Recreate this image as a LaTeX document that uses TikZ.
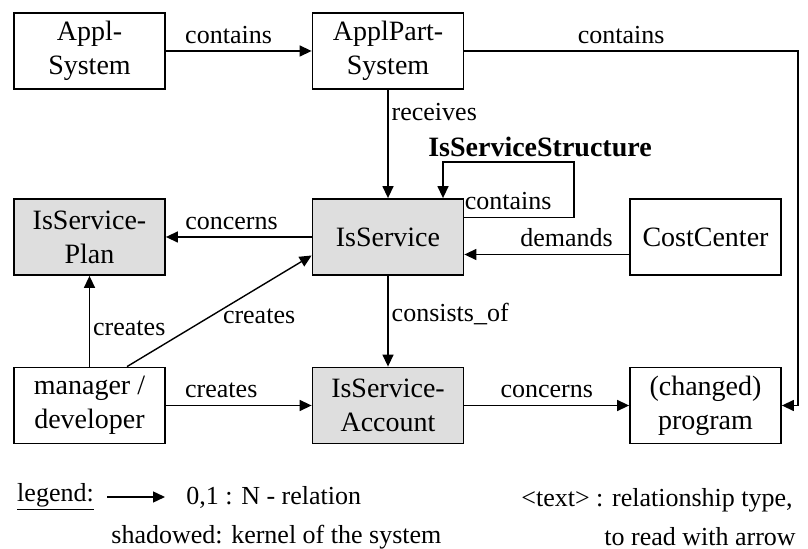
\documentclass[tikz,border=0pt]{standalone}
\usepackage{fontspec}
\setmainfont{Liberation Serif}
\usetikzlibrary{arrows.meta}

\begin{document}
\begin{tikzpicture}[x=0.5pt,y=-0.5pt,
    >={Triangle[length=6pt,width=5.5pt]},
    rel/.style={->,line width=0.7pt},
    box/.style={draw,line width=0.9pt,minimum width=75.5pt,minimum height=38pt,
        align=center,font=\fontsize{14}{17}\selectfont},
    kernel/.style={box,fill=black!13},
    lbl/.style={font=\fontsize{13}{15}\selectfont,inner sep=1.5pt},
    up/.style={lbl,above=2pt}]

    \useasboundingbox (0,0) rectangle (808,549);

    % boxes
    \node[box] (appl) at (89.5,51) {Appl-\\System};
    \node[box] (applpart) at (388,51) {ApplPart-\\System};
    \node[kernel] (plan) at (89.5,237) {IsService-\\Plan};
    \node[kernel] (isservice) at (388,237) {IsService};
    \node[box] (costcenter) at (705.5,237) {CostCenter};
    \node[box] (manager) at (89.5,405.5) {manager /\\developer};
    \node[kernel] (account) at (388,405.5) {IsService-\\Account};
    \node[box] (program) at (705.5,405.5) {(changed)\\program};

    \node[font=\fontsize{14}{17}\selectfont\bfseries] (structure) at (540,147) {IsServiceStructure};
    \coordinate (rightturn) at (798,51);
    \coordinate (loop) at (574,162);

    % relations
    \draw[rel] (appl) -- node[up,pos=0.43] {contains} (applpart);
    \draw[rel] (applpart) -- node[up,pos=0.47] {contains} (rightturn) |- (program);
    \draw[rel] (applpart) -- node[lbl,right,pos=0.2] {receives} (isservice);
    \draw[rel] ([yshift=9.75pt]isservice.east) -| node[up,pos=0.2] {contains} (loop)
        -| ([xshift=27.5pt]isservice.north);
    \draw[rel] (isservice) -- node[up,pos=0.55] {concerns} (plan);
    \draw[rel] ([yshift=-8.75pt]costcenter.west) -- node[up,pos=0.38] {demands}
        ([yshift=-8.75pt]isservice.east);
    \draw[rel] (isservice) -- node[lbl,right,pos=0.42] {consists\_of} (account);
    \draw[rel] (manager) -- node[lbl,right,pos=0.42] {creates} (plan);
    \draw[rel] ([xshift=18.75pt]manager.north) -- node[lbl,anchor=west,pos=0.5,yshift=-2.5pt] {creates}
        ([yshift=-9.25pt]isservice.west);
    \draw[rel] (manager) -- node[up,pos=0.38] {creates} (account);
    \draw[rel] (account) -- node[up] {concerns} (program);

    % legend
    \node[lbl] (legend) at (55.5,497) {\underline{legend:}};
    \node[lbl,anchor=west] (relation) at (183,497) {0,1 : N - relation};
    \draw[rel] ([xshift=5pt]legend.east) -- ([xshift=-9pt]relation.west);
    \node[lbl,anchor=west] (shadowed) at (108,537) {shadowed: kernel of the system};
    \node[lbl,anchor=west] (reltype) at (518,500) {<text> : relationship type,};
    \node[lbl,anchor=west] (readarrow) at (601,537) {to read with arrow};
\end{tikzpicture}
\end{document}
